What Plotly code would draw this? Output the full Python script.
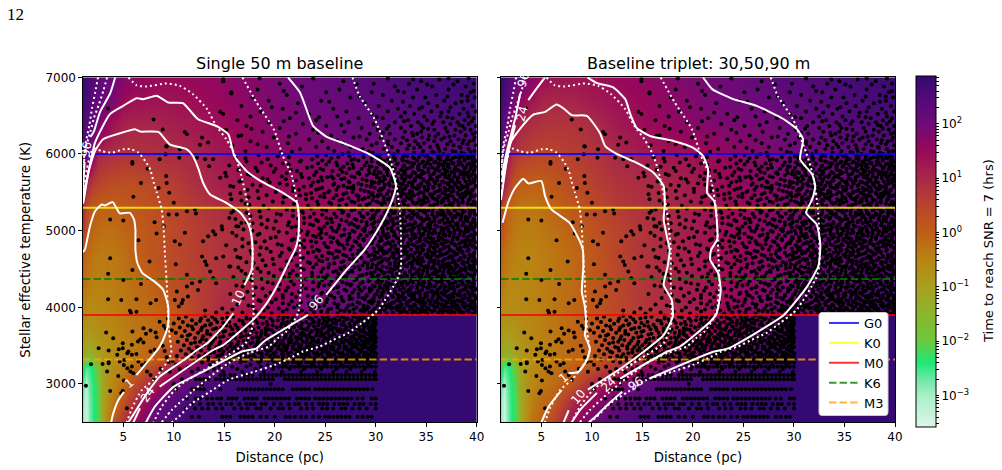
import math
import plotly.graph_objects as go

# Heat map grid: distance (pc), effective temperature (K), log10(hours to reach SNR = 7)
grid_dist = [1, 1.3, 1.6, 2, 2.5, 3, 4, 5, 6, 8, 10, 12.5, 15, 17.5, 20, 22.5, 25, 27.5, 30, 30.1, 32.5, 35, 40]
grid_teff = [2500, 2750, 3000, 3200, 3300, 3400, 3600, 3890, 3910, 4300, 4700, 5000, 5300, 5600, 6000, 6400, 6700, 7000]

log_hours_single = [
    [-2.9, -3.4, -2.85, -2.45, -2.15, -1.0, 0.1, 0.8, 1.38, 2.2, 2.55, 2.75, 2.85, 2.87, 2.87, 2.87, 2.87, 2.87, 2.87, 2.87, 2.87, 2.87, 2.87],
    [-2.8, -3.3, -2.8, -2.45, -2.15, -1.05, -0.3, 0.25, 0.8, 1.95, 2.45, 2.7, 2.8, 2.85, 2.87, 2.87, 2.87, 2.87, 2.87, 2.87, 2.87, 2.87, 2.87],
    [-2.6, -3.1, -2.7, -2.42, -2.05, -1.05, -0.55, -0.2, 0.3, 1.05, 1.95, 2.5, 2.7, 2.8, 2.85, 2.87, 2.87, 2.87, 2.87, 2.87, 2.87, 2.87, 2.87],
    [-2.0, -2.6, -2.5, -2.3, -1.8, -1.0, -0.65, -0.4, -0.15, 0.5, 1.3, 2.0, 2.4, 2.6, 2.75, 2.8, 2.85, 2.87, 2.87, 2.87, 2.87, 2.87, 2.87],
    [-1.5, -2.1, -2.3, -1.95, -1.35, -1.0, -0.7, -0.5, -0.35, 0.1, 0.8, 1.5, 2.1, 2.45, 2.6, 2.72, 2.8, 2.85, 2.87, 2.87, 2.87, 2.87, 2.87],
    [-1.1, -1.3, -1.4, -1.2, -1.0, -0.85, -0.65, -0.5, -0.38, 0.0, 0.6, 1.15, 1.78, 2.2, 2.42, 2.6, 2.72, 2.8, 2.85, 2.87, 2.87, 2.87, 2.87],
    [-0.8, -0.9, -0.95, -0.9, -0.8, -0.7, -0.58, -0.45, -0.35, -0.15, 0.1, 0.75, 1.28, 1.7, 2.02, 2.25, 2.45, 2.6, 2.75, 2.87, 2.87, 2.87, 2.87],
    [-0.55, -0.6, -0.65, -0.65, -0.6, -0.55, -0.47, -0.38, -0.3, -0.15, 0.05, 0.55, 1.0, 1.35, 1.68, 1.93, 2.1, 2.25, 2.42, 2.87, 2.87, 2.87, 2.87],
    [-0.55, -0.6, -0.65, -0.65, -0.6, -0.55, -0.47, -0.38, -0.3, -0.15, 0.05, 0.55, 1.0, 1.35, 1.68, 1.93, 2.1, 2.25, 2.4, 2.4, 2.5, 2.6, 2.7],
    [-0.2, -0.3, -0.4, -0.45, -0.45, -0.45, -0.4, -0.32, -0.22, -0.03, 0.32, 0.62, 0.85, 1.05, 1.33, 1.67, 1.9, 2.05, 2.2, 2.2, 2.35, 2.45, 2.6],
    [0.1, -0.1, -0.2, -0.3, -0.35, -0.37, -0.35, -0.25, -0.06, 0.2, 0.4, 0.62, 0.82, 0.98, 1.22, 1.5, 1.68, 1.88, 2.05, 2.05, 2.2, 2.3, 2.5],
    [0.7, 0.3, 0.03, -0.1, -0.18, -0.22, -0.22, -0.1, -0.02, 0.2, 0.4, 0.62, 0.83, 0.99, 1.2, 1.39, 1.6, 1.8, 1.95, 1.95, 2.1, 2.2, 2.35],
    [1.0, 0.45, 0.2, 0.08, 0.02, -0.02, -0.02, 0.05, 0.12, 0.3, 0.48, 0.72, 0.93, 1.12, 1.28, 1.39, 1.55, 1.72, 1.88, 1.88, 2.02, 2.15, 2.3],
    [1.95, 1.2, 0.9, 0.6, 0.5, 0.42, 0.32, 0.28, 0.3, 0.45, 0.62, 0.92, 1.15, 1.3, 1.45, 1.55, 1.65, 1.75, 1.85, 1.85, 2.02, 2.15, 2.3],
    [2.4, 2.25, 2.1, 1.7, 1.05, 0.95, 0.88, 0.82, 0.8, 0.85, 0.92, 1.05, 1.3, 1.52, 1.65, 1.75, 1.83, 1.9, 1.97, 1.97, 2.1, 2.2, 2.4],
    [2.55, 2.4, 2.3, 2.15, 2.0, 1.75, 1.32, 1.12, 1.05, 1.05, 1.15, 1.27, 1.42, 1.62, 1.78, 1.92, 2.0, 2.13, 2.25, 2.25, 2.35, 2.45, 2.6],
    [2.7, 2.6, 2.45, 2.3, 2.15, 2.05, 1.9, 1.45, 1.38, 1.33, 1.33, 1.42, 1.55, 1.72, 1.85, 1.97, 2.1, 2.22, 2.35, 2.35, 2.45, 2.55, 2.7],
    [2.85, 2.75, 2.6, 2.45, 2.3, 2.2, 2.0, 1.8, 1.65, 1.5, 1.47, 1.55, 1.63, 1.75, 1.88, 2.05, 2.15, 2.3, 2.45, 2.45, 2.55, 2.65, 2.8],
]

log_hours_triplet = [
    [-2.9, -3.4, -2.85, -2.45, -2.15, -1.1, -0.3, 0.0, 0.4, 1.38, 2.02, 2.45, 2.65, 2.75, 2.82, 2.87, 2.87, 2.87, 2.87, 2.87, 2.87, 2.87, 2.87],
    [-2.8, -3.3, -2.8, -2.45, -2.15, -1.1, -0.45, -0.15, 0.0, 1.0, 1.6, 2.15, 2.55, 2.7, 2.8, 2.85, 2.87, 2.87, 2.87, 2.87, 2.87, 2.87, 2.87],
    [-2.6, -3.1, -2.7, -2.42, -2.05, -1.05, -0.6, -0.35, -0.2, 0.2, 1.0, 1.65, 2.2, 2.5, 2.7, 2.8, 2.85, 2.87, 2.87, 2.87, 2.87, 2.87, 2.87],
    [-2.0, -2.6, -2.5, -2.3, -1.8, -1.0, -0.65, -0.4, -0.25, -0.02, 0.28, 0.92, 1.55, 2.05, 2.35, 2.55, 2.7, 2.8, 2.85, 2.87, 2.87, 2.87, 2.87],
    [-1.5, -2.1, -2.3, -1.95, -1.35, -1.0, -0.7, -0.5, -0.35, -0.1, 0.1, 0.72, 1.2, 1.72, 2.05, 2.35, 2.55, 2.7, 2.8, 2.87, 2.87, 2.87, 2.87],
    [-1.1, -1.25, -1.4, -1.2, -1.0, -0.85, -0.65, -0.5, -0.38, -0.1, 0.05, 0.6, 0.97, 1.4, 1.75, 2.0, 2.3, 2.5, 2.72, 2.87, 2.87, 2.87, 2.87],
    [-0.85, -0.95, -1.0, -0.95, -0.85, -0.72, -0.58, -0.45, -0.35, -0.12, 0.1, 0.5, 0.82, 1.05, 1.38, 1.65, 1.93, 2.1, 2.35, 2.87, 2.87, 2.87, 2.87],
    [-0.6, -0.65, -0.7, -0.7, -0.65, -0.6, -0.5, -0.42, -0.32, -0.12, 0.12, 0.42, 0.72, 0.97, 1.22, 1.42, 1.65, 1.87, 2.05, 2.87, 2.87, 2.87, 2.87],
    [-0.6, -0.65, -0.7, -0.7, -0.65, -0.6, -0.5, -0.42, -0.32, -0.12, 0.12, 0.42, 0.72, 0.97, 1.22, 1.42, 1.65, 1.87, 2.05, 2.05, 2.2, 2.35, 2.55],
    [-0.3, -0.4, -0.5, -0.55, -0.58, -0.55, -0.5, -0.42, -0.35, -0.15, 0.12, 0.45, 0.72, 1.02, 1.2, 1.36, 1.6, 1.8, 1.92, 1.92, 2.1, 2.25, 2.5],
    [-0.05, -0.2, -0.3, -0.4, -0.45, -0.5, -0.5, -0.42, -0.33, -0.15, 0.12, 0.5, 0.78, 1.0, 1.2, 1.38, 1.55, 1.7, 1.85, 1.85, 1.98, 2.12, 2.35],
    [0.3, 0.05, -0.12, -0.25, -0.35, -0.4, -0.42, -0.35, -0.25, -0.03, 0.2, 0.5, 0.75, 0.99, 1.2, 1.39, 1.55, 1.72, 1.85, 1.85, 2.0, 2.15, 2.3],
    [0.6, 0.25, 0.02, -0.12, -0.25, -0.3, -0.32, -0.25, -0.08, 0.12, 0.38, 0.65, 0.85, 1.02, 1.22, 1.4, 1.55, 1.72, 1.85, 1.85, 2.0, 2.15, 2.3],
    [1.85, 1.2, 0.8, 0.4, 0.1, 0.0, -0.02, -0.03, 0.1, 0.35, 0.55, 0.8, 0.9, 1.03, 1.2, 1.45, 1.6, 1.75, 1.88, 1.88, 2.02, 2.15, 2.3],
    [2.3, 2.0, 1.45, 1.0, 0.8, 0.65, 0.52, 0.45, 0.48, 0.6, 0.75, 0.99, 1.2, 1.3, 1.36, 1.52, 1.68, 1.82, 1.95, 1.95, 2.1, 2.2, 2.4],
    [2.5, 2.3, 2.0, 1.5, 1.3, 1.05, 0.9, 0.82, 0.78, 0.8, 0.93, 1.22, 1.42, 1.58, 1.72, 1.83, 1.9, 1.96, 2.15, 2.15, 2.3, 2.42, 2.58],
    [2.7, 2.55, 2.35, 2.1, 1.85, 1.6, 1.3, 1.05, 1.0, 1.05, 1.22, 1.35, 1.5, 1.66, 1.8, 1.93, 2.02, 2.15, 2.3, 2.3, 2.42, 2.52, 2.68],
    [2.85, 2.75, 2.6, 2.4, 2.15, 2.0, 1.8, 1.45, 1.36, 1.32, 1.37, 1.5, 1.6, 1.73, 1.85, 2.03, 2.12, 2.27, 2.42, 2.42, 2.52, 2.62, 2.78],
]

# Colour map stops: log10(hours), colour
cmap_levels = [-3.58, -3.0, -2.7, -2.4, -2.0, -1.5, -1.0, -0.5, 0.0, 0.5, 1.0, 1.5, 2.0, 2.5, 2.88]
cmap_colors = ["#dcf5ea", "#a8f0c8", "#6ce8a4", "#1fe876", "#6cc83e", "#8cb52c", "#a8a01e", "#b98412",
               "#bf5e16", "#b8442c", "#a82848", "#98085a", "#6f0a78", "#500a78", "#330a72"]

# Stars with well separated positions: distance (pc), effective temperature (K)
near_dist = [1.3, 1.8, 2.56, 3.3, 4.0, 3.55, 2.95, 3.55, 3.55, 4.4, 4.55, 4.95, 4.95, 5.5, 5.85, 5.9, 7.0, 7.25, 7.7, 8.2,
             6.7, 7.0, 6.45, 5.4, 5.85, 6.3, 5.1, 4.65, 5.05, 5.4, 5.85, 5.7, 6.0, 6.5, 6.85, 7.2, 3.4, 4.5, 5.05, 3.7,
             4.95, 4.8, 5.36, 8.1, 7.7, 7.35, 7.7, 8.0, 8.9, 9.1, 9.3, 9.5, 8.7, 8.3, 3.5, 8.0, 8.9, 9.25, 5.9, 5.9,
             8.6, 9.2, 10.55, 7.4, 9.25, 6.75, 9.3, 8.5, 9.55, 6.0, 10.0, 5.0, 3.7, 6.5, 8.1, 9.0, 9.5, 10.3, 11.3, 12.1,
             12.2, 8.3, 10.1, 11.1, 10.6, 12.9, 13.4, 13.9, 14.1, 14.75, 14.8, 15.7, 15.9, 16.2, 16.7, 12.8, 13.4, 12.6,
             11.3, 11.1, 9.3, 10.6, 12.3, 13.1, 13.9, 13.5, 14.6, 15.6, 15.1, 14.6, 15.7, 16.4, 14.9, 3.7, 3.5, 5.0, 5.9,
             6.75, 3.5, 4.8, 6.3, 7.7, 8.25, 5.66, 5.75, 6.3, 7.6, 10.2, 12.8, 13.1, 13.25, 10.3, 11.3, 11.3, 11.8, 12.4,
             11.4, 10.9, 10.8, 10.5, 10.1, 12.6, 13.6, 13.9, 14.2, 14.9, 15.6, 14.2, 8.6, 9.0, 9.4, 9.8, 9.2, 10.0]
near_teff = [2978, 3257, 3466, 3671, 3597, 3436, 3262, 3270, 3290, 3380, 3453, 3532, 3466, 3423, 3510, 3684, 3728, 3654, 3698, 3671,
             3584, 3540, 3553, 3400, 3380, 3392, 3314, 3292, 3249, 3205, 3227, 3161, 3140, 3292, 3249, 3270, 3161, 3105, 3044, 2908,
             2908, 2878, 2682, 3445, 3423, 3161, 3118, 3052, 3500, 3430, 3350, 3290, 3200, 3610, 6593, 6449, 6318, 6100, 5895, 5874,
             5930, 5996, 5952, 5808, 5712, 5620, 5620, 5555, 5494, 5442, 5363, 5132, 5145, 4875, 5110, 5058, 5210, 5210, 5254, 5276,
             5224, 4962, 4862, 4971, 4818, 4862, 4927, 4993, 4949, 5058, 5015, 5233, 5255, 5058, 5100, 6214, 6148, 6120,
             6257, 6288, 6096, 6061, 5952, 5930, 5930, 5840, 5690, 5581, 5756, 6550, 6790, 6235, 6976, 4641, 4436, 4357, 4488,
             4305, 4105, 4096, 4105, 4052, 4096, 3956, 3930, 3943, 4597, 4562, 4663, 4597, 4553, 4205, 4423, 4270, 4314, 4227,
             4140, 4096, 4052, 4009, 4096, 4335, 4467, 4379, 4314, 4663, 4532, 4641, 3810, 3760, 3850, 3700, 3720, 3790]

# Dense parts of the catalogue as rows: temperature (K), distances in tenths of a parsec
stars_hot = [
    (6985, [185, 312, 372, 392, 238]), (6950, [149, 268, 345, 381]), (6915, [205, 298, 333, 397]), (6880, [227, 356, 389, 319]),
    (6840, [183, 264, 341, 372]), (6805, [157, 296, 328, 394, 251]), (6770, [212, 360, 385, 307]), (6735, [178, 275, 349, 337, 398]),
    (6695, [194, 246, 316, 368, 391]), (6660, [223, 289, 352, 379]), (6625, [167, 303, 334, 361, 396]), (6590, [208, 258, 343, 387, 322]),
    (6555, [186, 271, 312, 355, 372, 399]), (6520, [149, 234, 296, 338, 383]), (6490, [176, 262, 325, 364, 392, 348]),
    (6465, [215, 283, 307, 376, 397]), (6440, [163, 241, 332, 351, 388]), (6415, [194, 273, 319, 367, 381, 342]),
    (6390, [228, 298, 356, 392, 374]), (6365, [172, 251, 335, 313, 386, 399]), (6340, [205, 286, 347, 369, 325]),
    (6315, [152, 238, 302, 358, 379, 394]), (6290, [188, 269, 329, 345, 384, 371]), (6265, [221, 294, 314, 362, 396, 341]),
    (6240, [167, 256, 337, 353, 378, 389]), (6215, [199, 278, 305, 327, 368, 398, 346]), (6190, [234, 291, 352, 382, 319, 365]),
    (6165, [176, 247, 312, 339, 374, 393, 358]), (6140, [213, 268, 325, 386, 348, 301]), (6115, [158, 296, 333, 361, 399, 377]),
    (6090, [192, 241, 316, 354, 383, 344, 275]), (6065, [225, 287, 308, 369, 392, 331]), (6040, [171, 259, 322, 347, 376, 398, 363]),
    (6015, [206, 273, 297, 338, 385, 358, 313]), (5985, [184, 251, 329, 351, 372, 396, 304, 383]),
]

stars_mid = [
    (5958, [161, 214, 263, 288, 318, 343, 364, 379, 394, 337]), (5930, [193, 237, 279, 305, 326, 355, 371, 388, 312]),
    (5902, [172, 225, 254, 296, 331, 347, 368, 382, 399, 359]), (5875, [208, 243, 272, 314, 338, 362, 376, 393, 322]),
    (5848, [155, 196, 262, 289, 307, 349, 367, 386, 328, 397]), (5820, [181, 232, 278, 301, 334, 356, 373, 389, 316]),
    (5792, [164, 216, 248, 293, 325, 343, 361, 381, 398, 369]), (5765, [199, 241, 267, 311, 337, 352, 375, 392, 303]),
    (5738, [173, 226, 284, 298, 328, 346, 366, 384, 357, 396]), (5710, [152, 207, 256, 276, 319, 341, 363, 378, 394, 308, 331]),
    (5682, [188, 234, 269, 304, 326, 354, 372, 387, 399]), (5655, [167, 221, 247, 291, 315, 339, 361, 376, 393, 348]),
    (5628, [195, 238, 274, 299, 333, 351, 368, 383, 322, 397]), (5600, [178, 212, 258, 286, 309, 344, 364, 379, 391, 327]),
    (5572, [159, 229, 263, 295, 318, 336, 357, 374, 388, 399, 348]), (5545, [201, 244, 278, 305, 329, 352, 369, 385, 341]),
    (5518, [183, 218, 254, 289, 313, 334, 362, 377, 395, 323]), (5490, [166, 236, 271, 297, 326, 347, 366, 381, 358, 392]),
    (5462, [192, 225, 261, 281, 317, 338, 355, 373, 389, 399, 302]), (5435, [174, 209, 249, 293, 308, 331, 349, 371, 384, 362]),
    (5408, [157, 231, 267, 287, 322, 343, 359, 378, 393, 312, 335]), (5380, [198, 242, 276, 301, 327, 352, 367, 386, 397]),
    (5352, [171, 219, 256, 294, 316, 339, 361, 375, 391, 346, 306]), (5325, [189, 233, 264, 284, 332, 354, 369, 382, 399, 323]),
    (5275, [163, 212, 247, 279, 311, 328, 344, 364, 379, 394, 297]), (5248, [185, 227, 268, 301, 319, 337, 356, 372, 388, 347]),
    (5220, [202, 239, 259, 292, 324, 341, 363, 381, 398, 309, 374]), (5192, [176, 218, 273, 286, 314, 333, 351, 369, 385, 393]),
    (5165, [155, 229, 251, 298, 321, 345, 358, 376, 391, 306, 336]), (5138, [193, 241, 266, 281, 327, 348, 366, 384, 398, 315]),
    (5110, [172, 214, 257, 291, 308, 339, 355, 373, 387, 363, 325]), (5082, [187, 235, 274, 296, 318, 334, 352, 379, 394, 345]),
    (5055, [164, 221, 249, 283, 303, 329, 361, 371, 389, 399, 342]), (5028, [199, 244, 263, 289, 312, 337, 354, 368, 382, 322, 396]),
    (5000, [178, 226, 258, 277, 316, 331, 349, 365, 378, 392, 301]), (4972, [158, 212, 246, 294, 307, 343, 359, 374, 388, 325, 398]),
    (4945, [183, 232, 269, 285, 319, 336, 352, 369, 383, 395, 347]), (4918, [201, 241, 255, 298, 313, 328, 362, 377, 391, 340, 305]),
    (4890, [168, 219, 273, 288, 323, 349, 366, 381, 397, 334, 357]), (4862, [190, 236, 262, 279, 304, 317, 343, 371, 386, 356, 394]),
    (4835, [174, 224, 249, 296, 311, 332, 354, 375, 389, 326, 365]), (4808, [152, 207, 267, 284, 319, 338, 361, 379, 396, 348, 302]),
    (4780, [186, 229, 253, 291, 306, 327, 345, 368, 384, 399, 357]), (4752, [161, 215, 242, 275, 314, 335, 352, 373, 392, 322, 364]),
    (4725, [196, 238, 264, 299, 321, 342, 359, 377, 386, 309, 331]), (4698, [177, 221, 257, 282, 308, 329, 351, 369, 381, 397, 344]),
    (4670, [205, 247, 271, 293, 316, 337, 363, 388, 374, 324, 355]), (4642, [166, 228, 259, 286, 302, 333, 346, 372, 393, 318, 384]),
    (4615, [188, 216, 244, 278, 311, 325, 358, 367, 382, 399, 341, 296]), (4588, [172, 233, 266, 289, 319, 336, 353, 376, 391, 305]),
    (4560, [199, 241, 254, 297, 327, 344, 362, 379, 387, 314, 369]), (4532, [155, 212, 269, 283, 307, 331, 349, 371, 396, 322, 357]),
    (4505, [183, 226, 248, 292, 315, 338, 355, 368, 384, 301, 393]), (4478, [167, 218, 261, 276, 324, 347, 363, 377, 389, 334, 399]),
    (4450, [194, 237, 273, 295, 309, 329, 342, 372, 381, 358, 316]), (4422, [176, 222, 252, 287, 303, 336, 351, 366, 394, 323, 386]),
    (4395, [159, 209, 243, 268, 312, 326, 345, 374, 388, 361, 298]), (4368, [187, 231, 264, 281, 318, 339, 356, 369, 379, 397, 307]),
    (4340, [170, 216, 256, 293, 306, 328, 347, 364, 385, 391, 335, 372]), (4312, [198, 244, 272, 285, 313, 332, 353, 376, 396, 321, 343]),
    (4285, [162, 227, 249, 297, 309, 341, 359, 368, 382, 326, 389, 275]), (4258, [181, 213, 262, 289, 318, 335, 351, 373, 394, 304, 364]),
    (4230, [204, 238, 269, 279, 324, 346, 361, 378, 387, 312, 399]), (4202, [173, 224, 253, 294, 308, 331, 355, 369, 383, 343, 391, 319]),
    (4175, [156, 217, 246, 283, 301, 327, 349, 367, 376, 396, 336, 358]), (4148, [191, 233, 274, 291, 316, 338, 362, 384, 393, 306, 372, 323]),
    (4120, [169, 208, 259, 287, 311, 329, 344, 374, 388, 356, 399, 298]), (4092, [184, 241, 267, 296, 321, 335, 352, 366, 381, 392, 308, 343]),
    (4065, [197, 226, 251, 282, 303, 318, 347, 371, 386, 359, 331, 397]), (4038, [163, 214, 263, 277, 313, 326, 354, 365, 379, 394, 338]),
    (4010, [178, 235, 244, 292, 306, 334, 346, 361, 376, 389, 321, 399, 369]), (3985, [148, 204, 256, 271, 299, 315, 328, 352, 383, 397, 341, 366]),
    (3958, [131, 189, 227, 265, 285, 309, 337, 349, 368, 375, 391, 323, 358]), (3932, [142, 168, 239, 252, 294, 317, 331, 344, 362, 387, 399, 378, 304]),
]

# Extra stars between the rows above, where the catalogue is densest
stars_mid_extra = [
    (6970, [337, 363]), (6905, [281, 377, 351]), (6820, [209, 322, 397]), (6750, [284, 371, 391]), (6680, [327, 254, 385]),
    (6610, [197, 374, 346]), (6540, [221, 329, 365, 391]), (6478, [301, 244, 371]), (6428, [209, 358, 395, 328]), (6378, [266, 345, 383]),
    (6328, [177, 311, 352, 388]), (6278, [243, 336, 399, 307]), (6228, [214, 284, 359, 373]), (6178, [262, 331, 397, 387]),
    (6128, [183, 312, 371, 342, 391]), (6078, [253, 338, 362, 384]), (6028, [217, 293, 356, 379, 394]), (5998, [267, 318, 346, 367, 388]),
    (5971, [203, 242, 301, 349, 362, 386, 397, 331, 274]), (5944, [171, 256, 296, 319, 338, 376, 383, 392, 353, 362]),
    (5916, [226, 283, 308, 327, 352, 374, 396, 388, 341, 247]), (5888, [187, 261, 291, 333, 346, 358, 369, 384, 315, 397, 302]),
    (5861, [214, 251, 277, 304, 321, 343, 372, 391, 354, 382, 365]), (5834, [168, 237, 268, 296, 313, 336, 362, 379, 399, 348, 327]),
    (5806, [201, 245, 286, 309, 331, 352, 367, 388, 394, 319, 342, 274]), (5779, [183, 222, 257, 299, 317, 328, 346, 371, 383, 363, 397]),
    (5752, [212, 271, 282, 305, 322, 339, 358, 369, 389, 348, 378, 294]), (5724, [176, 239, 263, 291, 312, 335, 354, 373, 387, 399, 326]),
    (5696, [227, 252, 279, 301, 316, 344, 361, 382, 392, 334, 369, 246]), (5669, [193, 211, 266, 287, 309, 329, 347, 356, 375, 397, 321]),
    (5642, [165, 243, 273, 296, 318, 337, 352, 366, 389, 381, 328, 304]), (5614, [205, 259, 283, 303, 324, 345, 371, 378, 394, 359, 313]),
    (5586, [186, 236, 268, 291, 314, 331, 342, 363, 385, 399, 352, 278]), (5559, [218, 247, 275, 299, 321, 338, 357, 376, 391, 308, 368]),
    (5532, [173, 224, 261, 285, 306, 327, 349, 364, 383, 372, 396, 241]), (5504, [201, 253, 277, 293, 317, 336, 359, 375, 389, 344, 322]),
    (5476, [156, 231, 268, 296, 311, 329, 342, 354, 369, 394, 382, 305]), (5448, [212, 245, 283, 302, 325, 348, 363, 376, 397, 336, 388]),
    (5421, [184, 237, 258, 289, 314, 333, 351, 368, 386, 357, 322, 273]), (5394, [167, 221, 264, 297, 308, 344, 372, 381, 392, 361, 329]),
    (5366, [208, 254, 279, 303, 322, 337, 349, 365, 377, 399, 315, 386]), (5338, [175, 243, 271, 291, 317, 328, 358, 373, 395, 345, 306]),
    (5288, [194, 236, 263, 287, 302, 324, 341, 357, 371, 383, 392, 332, 312]), (5261, [218, 251, 276, 296, 315, 334, 352, 366, 378, 397, 344]),
    (5234, [172, 228, 267, 284, 309, 328, 349, 361, 386, 393, 372, 319]), (5206, [206, 247, 273, 299, 313, 338, 356, 374, 382, 399, 327, 365]),
    (5179, [186, 235, 261, 288, 306, 324, 342, 359, 368, 389, 379, 331]), (5152, [161, 223, 256, 279, 295, 317, 335, 353, 371, 397, 345, 384]),
    (5124, [201, 243, 271, 286, 303, 329, 347, 363, 376, 391, 358, 311]), (5096, [178, 229, 252, 276, 312, 322, 339, 368, 381, 399, 354, 298]),
    (5069, [213, 238, 264, 291, 309, 326, 344, 359, 374, 386, 394, 332]), (5042, [192, 217, 256, 282, 298, 316, 351, 365, 377, 397, 338, 306]),
    (5014, [169, 246, 269, 287, 307, 324, 343, 358, 372, 389, 381, 334, 396]), (4986, [204, 233, 261, 279, 297, 318, 336, 353, 367, 384, 328, 391]),
    (4959, [185, 223, 251, 274, 302, 312, 347, 363, 378, 399, 356, 325]), (4932, [162, 238, 266, 291, 308, 331, 345, 369, 387, 394, 318, 373]),
    (4904, [196, 246, 258, 283, 299, 321, 338, 354, 365, 381, 397, 344, 311]), (4876, [217, 229, 272, 288, 306, 327, 349, 362, 376, 389, 335, 392]),
    (4849, [181, 241, 256, 281, 295, 313, 341, 359, 369, 385, 399, 323, 352]), (4822, [203, 226, 264, 293, 309, 325, 347, 366, 378, 393, 336, 272]),
    (4794, [168, 237, 251, 277, 303, 316, 332, 354, 372, 388, 396, 361, 344]), (4766, [192, 214, 269, 286, 298, 319, 341, 358, 381, 399, 329, 367]),
    (4739, [176, 244, 261, 283, 307, 327, 346, 363, 375, 391, 353, 313, 384]), (4712, [207, 233, 254, 291, 311, 322, 339, 356, 371, 386, 398, 302]),
    (4684, [185, 219, 268, 277, 296, 318, 335, 349, 366, 379, 393, 326, 358]), (4656, [163, 241, 262, 284, 305, 324, 342, 361, 376, 388, 397, 351]),
    (4629, [198, 226, 252, 274, 299, 313, 331, 354, 369, 384, 344, 392, 321]), (4602, [212, 247, 268, 281, 306, 328, 347, 362, 378, 396, 337, 356]),
    (4574, [179, 235, 259, 292, 314, 323, 341, 358, 372, 386, 399, 333, 303]), (4546, [191, 222, 275, 287, 301, 319, 352, 366, 381, 393, 345, 329]),
    (4519, [164, 238, 253, 279, 296, 311, 336, 348, 364, 375, 389, 357, 397]), (4492, [206, 229, 266, 284, 304, 326, 343, 359, 373, 386, 395, 318]),
    (4464, [186, 246, 258, 277, 299, 313, 334, 351, 367, 383, 398, 324, 361]), (4436, [171, 215, 263, 291, 308, 321, 339, 356, 375, 391, 346, 379]),
    (4409, [199, 237, 271, 284, 302, 317, 331, 353, 368, 384, 396, 343, 362]), (4382, [214, 251, 262, 296, 309, 327, 349, 365, 377, 389, 336, 313]),
    (4354, [177, 226, 247, 279, 294, 318, 342, 359, 371, 383, 398, 329, 353]), (4326, [193, 238, 267, 287, 301, 324, 337, 361, 379, 392, 348, 311]),
    (4299, [205, 219, 254, 276, 304, 316, 331, 354, 366, 386, 397, 344, 373]), (4272, [168, 243, 263, 283, 299, 322, 347, 358, 369, 381, 393, 336]),
    (4244, [188, 231, 258, 294, 311, 328, 341, 363, 375, 389, 399, 352, 307]), (4216, [211, 226, 271, 286, 302, 319, 334, 356, 371, 384, 396, 345]),
    (4189, [196, 247, 263, 277, 306, 313, 339, 351, 365, 378, 392, 327, 359]), (4162, [179, 208, 254, 291, 299, 322, 344, 357, 381, 388, 397, 333, 368]),
    (4134, [221, 238, 266, 283, 304, 317, 336, 349, 363, 377, 393, 326, 371]), (4106, [201, 252, 274, 289, 312, 328, 347, 361, 373, 386, 399, 339]),
    (4079, [186, 217, 245, 268, 298, 309, 324, 341, 354, 369, 383, 395, 333, 378]), (4052, [208, 234, 259, 284, 296, 316, 331, 349, 362, 375, 388, 398, 344]),
    (4024, [174, 223, 249, 273, 288, 302, 323, 339, 357, 368, 381, 392, 348, 314]), (3998, [193, 219, 241, 262, 281, 293, 311, 336, 346, 359, 372, 388, 396, 324]),
    (3971, [158, 212, 236, 253, 278, 291, 305, 321, 334, 353, 364, 381, 399, 344, 373]), (3945, [181, 208, 224, 246, 274, 288, 302, 326, 339, 356, 371, 383, 392, 348]),
    (3919, [153, 197, 231, 262, 279, 297, 311, 324, 336, 351, 366, 374, 385, 396, 342]),
]

# Third pass over the far, crowded side of the field
stars_far_extra = [
    (5964, [303, 327, 371, 391]), (5921, [319, 364, 398, 276]), (5881, [309, 351, 377, 336]), (5841, [294, 342, 371, 395]), (5801, [312, 359, 378, 265]),
    (5761, [329, 347, 386, 283]), (5721, [301, 344, 369, 391]), (5681, [317, 339, 381, 258]), (5641, [307, 358, 374, 398]), (5601, [296, 336, 353, 372]),
    (5561, [324, 343, 381, 272]), (5521, [303, 351, 369, 391]), (5481, [317, 333, 386, 249]), (5441, [298, 356, 372, 394]), (5401, [328, 347, 366, 283]),
    (5361, [309, 341, 382, 397]), (5311, [291, 322, 357, 376]), (5271, [303, 348, 386, 266]), (5231, [317, 336, 367, 394]), (5191, [297, 342, 361, 378]),
    (5151, [326, 351, 389, 255]), (5111, [299, 317, 371, 396]), (5071, [336, 354, 381, 279]), (5031, [306, 328, 347, 392]), (4991, [289, 358, 372, 384]),
    (4951, [311, 339, 367, 398, 244]), (4911, [321, 352, 381, 274]), (4871, [297, 344, 369, 396]), (4831, [314, 358, 383, 263]), (4791, [329, 341, 369, 391]),
    (4751, [304, 347, 382, 286]), (4711, [317, 364, 378, 253]), (4671, [299, 332, 351, 396]), (4631, [309, 338, 376, 278]), (4591, [326, 345, 366, 387]),
    (4551, [292, 336, 373, 397]), (4511, [321, 351, 379, 265]), (4471, [306, 341, 372, 384]), (4431, [296, 329, 359, 398]), (4391, [318, 353, 381, 248]),
    (4351, [303, 336, 366, 392]), (4311, [326, 347, 386, 271]), (4271, [312, 354, 377, 396]), (4231, [296, 333, 368, 284]), (4191, [319, 342, 361, 383]),
    (4151, [306, 351, 374, 399, 256]), (4111, [322, 337, 365, 392, 277]), (4071, [293, 344, 358, 376]), (4031, [309, 331, 369, 386, 262]), (3991, [317, 351, 379, 394, 288]),
    (3951, [297, 328, 347, 366, 384, 269]),
]

stars_cool = [
    (3878, [112, 138, 159, 186, 209, 228, 241, 253, 266, 278, 289, 297]), (3855, [105, 127, 148, 172, 196, 218, 235, 248, 259, 272, 284, 295, 300]),
    (3832, [118, 134, 165, 181, 203, 224, 244, 256, 264, 276, 291, 299]), (3808, [109, 143, 155, 177, 192, 213, 231, 239, 252, 268, 281, 293]),
    (3785, [122, 137, 169, 188, 207, 221, 236, 247, 261, 274, 286, 298, 300]), (3762, [114, 131, 152, 174, 198, 211, 226, 243, 255, 269, 279, 292]),
    (3738, [106, 128, 147, 163, 184, 202, 219, 233, 249, 258, 271, 283, 296]), (3715, [119, 139, 158, 179, 194, 215, 229, 241, 254, 265, 277, 288, 299]),
    (3692, [111, 133, 151, 171, 187, 205, 222, 237, 246, 262, 273, 285, 294, 300]), (3668, [102, 124, 144, 166, 182, 199, 212, 227, 242, 251, 267, 280, 290, 297]),
    (3645, [116, 136, 156, 175, 191, 208, 225, 234, 248, 259, 272, 282, 293, 299]), (3622, [108, 129, 149, 168, 186, 201, 216, 231, 245, 256, 268, 278, 287, 295]),
    (3598, [121, 141, 161, 178, 195, 210, 223, 238, 250, 263, 275, 284, 296, 300]), (3575, [113, 132, 154, 173, 189, 204, 217, 232, 243, 257, 270, 281, 291, 298]),
    (3552, [104, 126, 146, 164, 183, 197, 214, 228, 240, 253, 266, 276, 288, 294, 300]), (3528, [117, 137, 157, 176, 193, 206, 220, 235, 247, 260, 274, 283, 292, 299]),
    (3505, [110, 130, 150, 169, 185, 200, 213, 226, 239, 252, 264, 277, 286, 297]), (3482, [123, 142, 160, 180, 190, 209, 224, 236, 249, 258, 271, 279, 290, 300]),
    (3458, [115, 135, 153, 172, 188, 203, 218, 230, 244, 255, 269, 282, 293, 298]), (3435, [107, 127, 145, 162, 177, 196, 211, 225, 237, 251, 262, 275, 285, 296]),
    (3412, [120, 140, 155, 170, 184, 201, 216, 229, 242, 254, 267, 278, 289, 299]), (3388, [112, 131, 148, 167, 192, 207, 221, 234, 246, 259, 272, 283, 294, 300]),
    (3365, [103, 125, 143, 159, 175, 187, 200, 214, 227, 240, 253, 265, 276, 288, 297]), (3342, [118, 134, 152, 165, 181, 195, 208, 222, 235, 248, 261, 273, 284, 293, 300]),
    (3318, [109, 128, 146, 160, 178, 191, 205, 219, 232, 245, 257, 270, 280, 291, 298]), (3298, [99, 121, 139, 156, 171, 186, 198, 212, 226, 238, 250, 263, 274, 286, 295]),
]

stars_cool_extra = [
    (3890, [131, 204, 219, 247, 262, 285, 293, 172]), (3866, [153, 189, 233, 252, 268, 281, 299, 213]), (3843, [141, 176, 208, 237, 253, 271, 287, 296]),
    (3820, [126, 168, 198, 217, 249, 261, 283, 297]), (3796, [149, 183, 209, 227, 243, 258, 279, 291, 300]), (3773, [136, 161, 193, 217, 234, 251, 266, 287, 296]),
    (3750, [118, 156, 176, 206, 224, 239, 253, 275, 289, 299]), (3726, [142, 171, 191, 212, 226, 247, 261, 281, 293]), (3703, [127, 164, 197, 209, 232, 243, 257, 269, 284, 296]),
    (3680, [149, 177, 191, 216, 236, 253, 264, 276, 287, 299]), (3656, [133, 159, 187, 203, 218, 229, 246, 258, 281, 291]), (3633, [114, 172, 193, 211, 227, 241, 254, 271, 284, 297]),
    (3610, [146, 166, 182, 204, 221, 235, 249, 262, 276, 289, 300]), (3586, [128, 157, 184, 197, 214, 226, 238, 253, 266, 279, 293]), (3563, [139, 169, 191, 208, 222, 237, 248, 261, 272, 286, 297]),
    (3540, [121, 153, 178, 187, 202, 216, 231, 243, 257, 268, 281, 292]), (3516, [145, 163, 182, 196, 209, 224, 236, 252, 263, 278, 289, 298]), (3493, [135, 156, 172, 192, 204, 218, 232, 244, 256, 269, 281, 295]),
    (3470, [126, 147, 166, 181, 197, 212, 226, 239, 251, 264, 276, 287, 299]), (3447, [140, 158, 176, 191, 206, 221, 234, 247, 258, 272, 284, 293]), (3424, [118, 149, 164, 181, 193, 208, 223, 233, 248, 261, 274, 286, 297]),
    (3400, [136, 155, 172, 187, 199, 213, 226, 239, 252, 264, 277, 291, 300]), (3376, [146, 163, 179, 196, 209, 220, 231, 243, 256, 269, 281, 292]), (3353, [129, 156, 171, 188, 203, 216, 229, 241, 255, 267, 279, 290, 298]),
    (3330, [141, 158, 173, 185, 199, 213, 226, 238, 251, 264, 276, 288, 296]), (3308, [134, 152, 168, 183, 194, 208, 222, 234, 247, 259, 271, 283, 293]),
]

# Spectral-type rows at the cool end of the catalogue
stars_rows = [
    (3279, [128, 166, 184, 201, 205, 209, 213, 218, 222, 226, 231, 235, 239, 244, 248, 252, 257, 261, 265, 270, 274, 278, 283, 287, 291, 296, 300]),
    (3250, [102, 136, 152, 176, 193, 210, 224, 237, 251, 266, 279, 293]),
    (3226, [114, 145, 158, 172, 186, 199, 204, 208, 212, 216, 220, 224, 228, 232, 236, 240, 244, 248, 252, 256, 260, 264, 268, 272, 276, 280, 284, 288, 292, 296, 300]),
    (3195, [106, 124, 140, 163, 181, 198, 215, 229, 246, 261, 275, 289]),
    (3160, [96, 118, 133, 149, 168, 189, 207, 226, 242, 258, 271, 286, 299]),
    (3118, [146, 150, 156, 160, 170, 174, 178, 186, 190, 194, 198, 202, 206, 210, 214, 218, 222, 226, 230, 234, 238, 242, 246, 250, 254, 258, 262, 266, 270, 274, 278, 282, 286, 290, 294, 298, 300]),
    (3061, [108, 122, 126, 130, 134, 142, 146, 150, 154, 158, 162, 166, 170, 174, 178, 182, 186, 190, 194, 198, 210, 214, 218, 222, 226, 230, 234, 238, 242, 246, 250, 254, 258, 262, 266, 270, 274, 278, 282, 286, 290, 294, 298, 300]),
    (3000, [100, 128, 196]),
    (2930, [102, 118, 122, 126, 130, 146, 164, 168, 172, 176, 180, 184, 188, 192, 196, 200, 204, 208, 218, 222, 226, 230, 234, 240, 244, 248, 252, 256, 260, 264, 268, 272, 276, 280, 284, 288, 292, 297]),
    (2812, [113, 122, 126, 133, 138, 143, 147, 154, 158, 162, 170, 174, 178, 182, 190, 194, 198, 202, 206, 210, 214, 222, 226, 230, 234, 240, 244, 248, 252, 256, 260, 264, 268, 272, 276, 282, 287, 296, 300]),
    (2738, [118, 126, 134, 139, 146, 152, 157, 165, 172, 176, 180, 187, 191, 199, 206, 214, 220, 224, 231, 237, 244, 248, 252, 259, 264, 268, 272, 279, 284, 288, 295, 300]),
    (2681, [112, 121, 128, 134, 142, 148, 160, 167, 173, 182, 186, 196, 204, 208, 215, 226, 232, 238, 247, 252, 258, 266, 270, 277, 284, 291, 300]),
    (2572, [118, 125, 148, 152, 156, 166, 170, 174, 178, 186, 192, 200, 211, 215, 220, 226, 231, 238, 244, 250, 254, 258, 262, 266, 270, 274, 282, 287, 292, 296]),
]

# Reference temperatures for spectral types
ref_names = ["G0", "K0", "M0", "K6", "M3"]
ref_teff = [6000, 5300, 3900, 4370, 3320]
ref_colors = ["rgba(0,0,255,0.8)", "rgba(255,255,0,0.8)", "rgba(255,0,0,0.8)", "rgba(0,128,0,0.8)", "rgba(255,165,0,0.8)"]
ref_dash = ["solid", "solid", "solid", "7.4px,3.2px", "7.4px,3.2px"]

# Contours for the single 50 m baseline, solid lines (None marks the gap under a contour label)
single_1_d = [1.0, 1.2, 1.7, 2.2, 2.86, 3.2, 3.95, 4.3, 4.67, 5.66, 6.06, 6.2, 6.2, 6.4, 6.9, 8.1, 8.96, 9.45, 9.45, 9.2, 8.6, 8.1, 6.3, None, 5.07, 4.5, 4.0, 3.8]
single_1_t = [4720, 4753, 5058, 5254, 5342, 5329, 5372, 5298, 5224, 5233, 5145, 5015, 4750, 4575, 4445, 4335, 4227, 4009, 3791, 3660, 3486, 3400, 3115, None, 2897, 2788, 2614, 2500]
single_10_d = [1.0, 1.1, 1.54, 2.2, 3.0, 4.67, 6.16, 6.65, 8.47, 9.6, 11.3, 11.9, 12.4, 12.9, 13.6, 15.2, 16.6, 17.4, 17.7, 17.8, 17.7, 17.0, None, 15.9, 14.9, 13.3, 12.3, 11.0, 8.6, 7.3, 6.0, 5.5]
single_10_t = [5350, 5407, 5756, 6039, 6192, 6270, 6323, 6292, 6288, 6126, 6061, 5974, 5821, 5625, 5472, 5363, 5233, 5080, 4927, 4753, 4487, 4291, None, 3922, 3748, 3530, 3443, 3313, 3096, 2870, 2600, 2500]
single_24_d = [1.0, 1.2, 2.2, 3.68, 5.0, 6.32, 7.0, 8.3, 9.46, 10.9, 12.4, 14.2, 15.4, 16.0, 17.2, 18.9, 20.5, 22.2, 22.4, 22.3, 22.0, 21.5, 20.2, 19.2, 18.0, 14.9, 13.9, 8.6, None, 6.65, 6.0]
single_24_t = [5440, 5538, 6148, 6519, 6628, 6728, 6715, 6759, 6671, 6663, 6453, 6366, 6257, 5974, 5778, 5625, 5516, 5363, 5145, 4884, 4750, 4619, 4270, 4052, 3856, 3507, 3443, 2965, None, 2683, 2500]
single_96_d = [4.2, 3.7, 2.7, 2.07, 1.74, None, 1.17, 1.0, None, 21.3, 22.5, 23.8, 25.1, 27.1, 29.4, 31.4, 32.0, 31.4, 30.4, 28.9, 27.1, 25.1, None, 23.3, 18.9, 18.2, 16.7, 12.9, 10.0, 8.1, 7.25]
single_96_t = [7000, 6789, 6549, 6288, 6222, None, 5895, 5500, None, 7000, 6802, 6366, 6227, 6126, 5996, 5821, 5581, 5320, 5058, 4753, 4487, 4161, None, 3900, 3551, 3464, 3421, 3160, 2965, 2700, 2500]

# Contours for the baseline triplet, solid lines
triplet_1_d = [1.15, 1.7, 2.4, 3.2, 3.7, 5.0, 5.36, 6.0, 7.8, 8.8, 9.1, 9.15, 9.0, 9.3, 9.4, 9.3, 9.8, 9.5, 8.66, 7.67, None, 7.0, 5.7, 5.0]
triplet_1_t = [5102, 5363, 5560, 5677, 5616, 5647, 5451, 5276, 5102, 4862, 4750, 4532, 4205, 4009, 3747, 3638, 3464, 3311, 3159, 3140, None, 2919, 2701, 2500]
triplet_10_d = [1.0, 1.4, 1.9, 2.9, 4.2, 5.36, 6.5, 7.2, 8.0, 9.5, 10.8, 11.3, 12.45, 14.4, 16.1, 17.1, 17.2, 17.1, 17.7, 17.7, 17.5, 17.1, 17.9, 18.0, 17.1, 15.1, 13.1, 9.6, None, 7.7, 7.2]
triplet_10_t = [5400, 5765, 6135, 6331, 6514, 6549, 6645, 6593, 6506, 6497, 6271, 6105, 6000, 5887, 5756, 5581, 5320, 5145, 4753, 4750, 4532, 4292, 4096, 3878, 3638, 3420, 3224, 2927, None, 2657, 2500]
triplet_24_d = [1.07, 1.56, 2.4, None, 3.7, 4.53, 5.36, None, 9.55, 10.5, 12.1, 13.3, 13.8, 14.4, 15.75, 18.06, 20.0, 21.0, 21.5, 21.4, 22.1, 22.35, 22.4, 21.8, 21.7, 22.5, 22.75, 22.35, 21.7, 18.7, 17.4, 12.8, None, 10.5, 8.8, 8.0]
triplet_24_t = [5634, 5939, 6375, None, 6702, 6855, 7000, None, 7000, 6924, 6868, 6715, 6519, 6344, 6235, 6170, 6083, 5974, 5799, 5494, 5385, 5145, 4884, 4750, 4619, 4445, 4227, 3922, 3812, 3486, 3420, 3071, None, 2884, 2657, 2500]
triplet_96_d = [1.07, 1.56, 2.4, 2.9, None, 21.0, 21.9, 24.0, 26.3, 29.0, 30.3, 30.9, 30.6, 31.8, 32.1, 31.8, 31.2, 32.25, 32.6, 32.6, 32.4, 31.3, 29.0, 26.7, 23.5, 22.0, 15.7, None, 13.0, 11.5, 10.5, 9.7]
triplet_96_t = [5720, 6026, 6462, 6789, None, 7000, 6846, 6715, 6628, 6453, 6323, 6192, 5930, 5734, 5581, 5407, 5233, 5080, 4840, 4750, 4532, 4270, 3900, 3703, 3464, 3420, 3071, None, 2897, 2723, 2592, 2500]

# Comparison contours, drawn dotted in both panels
dotted_a_d = [1.07, 1.4, 1.9, 2.2, 2.9, 3.9, 5.0, 5.8, 6.5, 7.2, 7.7, 8.0, 8.3, 8.8, 9.0, 9.1, 9.3, 9.45, 9.55, 9.75, 9.15, 8.0, 6.85, 5.85, 5.35]
dotted_a_t = [5503, 5808, 6048, 6070, 6035, 6017, 6061, 6061, 6017, 5904, 5786, 5634, 5503, 5276, 5015, 4753, 4314, 3878, 3663, 3401, 3249, 3052, 2922, 2682, 2500]
dotted_b_d = [5.5, 6.3, 7.3, 9.3, 10.6, 11.9, 13.3, 14.2, 15.2, 16.1, 16.7, 17.4, 17.7, 17.8, 17.8, 17.9, 17.7, 17.1, 15.4, 14.1, 12.5, 11.1, 10.1, 8.8, 8.0]
dotted_b_t = [7000, 6898, 6880, 6920, 6889, 6780, 6584, 6366, 6192, 5974, 5712, 5276, 4927, 4753, 4314, 3878, 3706, 3532, 3379, 3270, 3140, 3030, 2922, 2703, 2500]
dotted_c_d = [16.8, 18.2, 19.9, 20.8, 21.7, 22.3, 22.5, 22.6, 22.3, 21.15, 20.3, 19.4, 17.4, 15.4, 13.6, 11.8, 9.8, 8.8]
dotted_c_t = [7000, 6671, 6323, 5974, 5712, 5276, 4753, 4314, 3924, 3684, 3597, 3488, 3401, 3270, 3096, 2900, 2660, 2500]
dotted_d_d = [27.7, 28.4, 29.9, 31.2, 31.9, 32.4, 32.5, 32.2, 30.4, 29.9, 28.6, 27.25, 25.8, 24.45, 22.8, 21.5, 20.0, 18.0, 15.4, 13.6, 11.8, 10.5, 9.8]
dotted_d_t = [7000, 6758, 6453, 6017, 5712, 5233, 4535, 4382, 3990, 3924, 3793, 3663, 3575, 3488, 3423, 3336, 3249, 3161, 3052, 2900, 2747, 2573, 2500]
dotted_e_d = [2.5, 2.23, 1.9, 1.64, 1.24, 1.0]
dotted_e_t = [7000, 6811, 6593, 6375, 6113, 5765]
dotted_f_d = [3.4, 3.05, 2.56, 2.07, 1.74, 1.3, 1.07]
dotted_f_t = [7000, 6833, 6637, 6462, 6288, 6092, 5852]

# Contour labels: text, distance, temperature, angle
single_labels = [("1", 5.6, 3015, -40), ("10", 16.4, 4118, -65), ("24", 7.4, 2860, -55), ("96", 24.1, 4052, -50), ("96", 1.37, 6061, -80)]
triplet_labels = [("1", 7.2, 3074, -40), ("10", 8.66, 2826, -50), ("24", 11.6, 2987, -45), ("96", 14.3, 3000, -35),
                  ("24", 3.05, 6527, -75), ("96", 3.2, 6964, -75)]

FONT = "DejaVu Sans"
WIDTH, HEIGHT = 1002, 470
DOMAIN_L = [82.9 / WIDTH, 476.7 / WIDTH]
DOMAIN_R = [501.0 / WIDTH, 895.0 / WIDTH]
DOMAIN_Y = [1 - 422.3 / HEIGHT, 1 - 77.3 / HEIGHT]

star_d = list(near_dist)
star_t = list(near_teff)
for table in (stars_hot, stars_mid, stars_mid_extra, stars_far_extra, stars_cool, stars_cool_extra, stars_rows):
    for teff, dists in table:
        star_d.extend(v / 10 for v in dists)
        star_t.extend(teff for _ in dists)

fig = go.Figure()


def add_panel(xa, ya, z, solids, labels, show_legend):
    fig.add_trace(go.Heatmap(x=grid_dist, y=grid_teff, z=z, zsmooth="best", coloraxis="coloraxis",
                             xaxis=xa, yaxis=ya, hoverinfo="skip"))
    fig.add_trace(go.Scatter(x=star_d, y=star_t, mode="markers", xaxis=xa, yaxis=ya, showlegend=False,
                             marker=dict(size=4, color="black", line=dict(width=0))))
    for name, teff, color, dash in zip(ref_names, ref_teff, ref_colors, ref_dash):
        fig.add_trace(go.Scatter(x=[1, 40], y=[teff, teff], mode="lines", name=name, xaxis=xa, yaxis=ya,
                                 showlegend=show_legend, line=dict(color=color, width=2, dash=dash)))
    for xs, ys in [(dotted_a_d, dotted_a_t), (dotted_b_d, dotted_b_t), (dotted_c_d, dotted_c_t),
                   (dotted_d_d, dotted_d_t), (dotted_e_d, dotted_e_t), (dotted_f_d, dotted_f_t)]:
        fig.add_trace(go.Scatter(x=xs, y=ys, mode="lines", xaxis=xa, yaxis=ya, showlegend=False,
                                 line=dict(color="white", width=2, dash="2px,3px", shape="spline", smoothing=0.6)))
    for xs, ys in solids:
        fig.add_trace(go.Scatter(x=xs, y=ys, mode="lines", xaxis=xa, yaxis=ya, showlegend=False,
                                 line=dict(color="white", width=2, shape="spline", smoothing=0.5)))
    for text, d, t, angle in labels:
        fig.add_annotation(x=d, y=t, xref=xa, yref=ya, text=text, showarrow=False, textangle=angle,
                           font=dict(family=FONT, size=12, color="white"))


add_panel("x", "y", log_hours_single,
          [(single_1_d, single_1_t), (single_10_d, single_10_t), (single_24_d, single_24_t), (single_96_d, single_96_t)],
          single_labels, False)
add_panel("x2", "y2", log_hours_triplet,
          [(triplet_1_d, triplet_1_t), (triplet_10_d, triplet_10_t), (triplet_24_d, triplet_24_t), (triplet_96_d, triplet_96_t)],
          triplet_labels, True)

axis_style = dict(showline=True, mirror=True, linecolor="black", linewidth=1, ticks="outside", ticklen=3.5, tickwidth=1,
                  tickcolor="black", showgrid=False, zeroline=False, tickfont=dict(family=FONT, size=12, color="black"),
                  automargin=False)
dist_ticks = [5, 10, 15, 20, 25, 30, 35, 40]
teff_ticks = [3000, 4000, 5000, 6000, 7000]
x_title = dict(text="Distance (pc)", font=dict(family=FONT, size=13.3, color="black"), standoff=9)

# Colour bar ticks: decades carry labels, the rest are minor positions
decades = [-3, -2, -1, 0, 1, 2]
decade_text = ["10<sup>\u22123</sup>", "10<sup>\u22122</sup>", "10<sup>\u22121</sup>", "10<sup>0</sup>", "10<sup>1</sup>", "10<sup>2</sup>"]
cb_vals, cb_text = [], []
for dec, label in zip([-4] + decades, [""] + decade_text):
    if dec >= -3:
        cb_vals.append(dec)
        cb_text.append(label)
    for m in range(2, 10):
        v = dec + math.log10(m)
        if -3.58 <= v <= 2.88:
            cb_vals.append(v)
            cb_text.append("")

span = cmap_levels[-1] - cmap_levels[0]
colorscale = [[(lv - cmap_levels[0]) / span, c] for lv, c in zip(cmap_levels, cmap_colors)]

x_legend, y_top, x_right, y_bottom = 819 / WIDTH, 1 - 312.5 / HEIGHT, 888 / WIDTH, 1 - 415.5 / HEIGHT
rx, ry = 3 / WIDTH, 3 / HEIGHT
legend_box = (f"M {x_legend + rx} {y_top} L {x_right - rx} {y_top} Q {x_right} {y_top} {x_right} {y_top - ry} "
              f"L {x_right} {y_bottom + ry} Q {x_right} {y_bottom} {x_right - rx} {y_bottom} "
              f"L {x_legend + rx} {y_bottom} Q {x_legend} {y_bottom} {x_legend} {y_bottom + ry} "
              f"L {x_legend} {y_top - ry} Q {x_legend} {y_top} {x_legend + rx} {y_top} Z")

fig.update_layout(
    width=WIDTH, height=HEIGHT, margin=dict(l=0, r=0, t=0, b=0), autosize=False,
    paper_bgcolor="white", plot_bgcolor="white", font=dict(family=FONT, color="black"),
    hovermode=False,
    xaxis=dict(domain=DOMAIN_L, range=[1, 40], tickvals=dist_ticks, anchor="y", title=x_title, **axis_style),
    yaxis=dict(domain=DOMAIN_Y, range=[2500, 7000], tickvals=teff_ticks, anchor="x",
               title=dict(text="Stellar effective temperature (K)", font=dict(family=FONT, size=13.3, color="black"), standoff=11),
               **axis_style),
    xaxis2=dict(domain=DOMAIN_R, range=[1, 40], tickvals=dist_ticks, anchor="y2", title=x_title, **axis_style),
    yaxis2=dict(domain=DOMAIN_Y, range=[2500, 7000], tickvals=teff_ticks, anchor="x2", showticklabels=False, **axis_style),
    coloraxis=dict(cmin=cmap_levels[0], cmax=cmap_levels[-1], colorscale=colorscale,
                   colorbar=dict(x=915.5 / WIDTH, xanchor="left", y=1 - 427 / HEIGHT, yanchor="bottom", lenmode="pixels", len=351,
                                 thicknessmode="pixels", thickness=20, xpad=0, ypad=0, outlinecolor="black", outlinewidth=1,
                                 tickmode="array", tickvals=cb_vals, ticktext=cb_text, ticks="outside", ticklen=3, tickwidth=1,
                                 tickcolor="black", tickfont=dict(family=FONT, size=12, color="black"))),
    legend=dict(x=824 / WIDTH, y=1 - 308 / HEIGHT, xanchor="left", yanchor="top", bgcolor="rgba(0,0,0,0)",
                font=dict(family=FONT, size=13, color="black"), borderwidth=0, traceorder="normal"),
    shapes=[dict(type="path", xref="paper", yref="paper", path=legend_box, fillcolor="white",
                 line=dict(color="#cccccc", width=1), layer="above")],
    annotations=list(fig.layout.annotations) + [
        dict(x=279.8 / WIDTH, y=1 - 63.5 / HEIGHT, xref="paper", yref="paper", xanchor="center", yanchor="middle",
             text="Single 50 m baseline", showarrow=False, font=dict(family=FONT, size=16, color="black")),
        dict(x=698 / WIDTH, y=1 - 63.5 / HEIGHT, xref="paper", yref="paper", xanchor="center", yanchor="middle",
             text="Baseline triplet: 30,50,90 m", showarrow=False, font=dict(family=FONT, size=16, color="black")),
        dict(x=5 / WIDTH, y=1 - 15 / HEIGHT, xref="paper", yref="paper", xanchor="left", yanchor="middle",
             text="12", showarrow=False, font=dict(family="Liberation Serif", size=17, color="black")),
        dict(x=988 / WIDTH, y=1 - 251 / HEIGHT, xref="paper", yref="paper", xanchor="center", yanchor="middle", textangle=-90,
             text="Time to reach SNR = 7 (hrs)", showarrow=False, font=dict(family=FONT, size=13, color="black")),
    ],
)

fig.write_html("out.html")
